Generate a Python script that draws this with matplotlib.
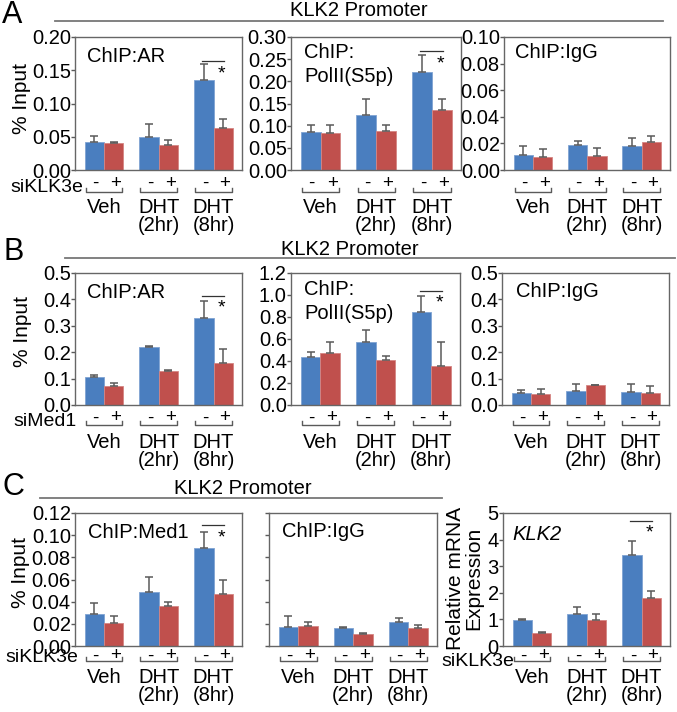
import matplotlib
matplotlib.use('Agg')
import matplotlib.pyplot as plt
from matplotlib.lines import Line2D
from matplotlib.transforms import offset_copy
import numpy as np

plt.rcParams['font.family'] = ['Liberation Sans', 'DejaVu Sans']

W, H = 677, 712

groups = ["Veh", "DHT\n(2hr)", "DHT\n(8hr)"]
signs = ["-", "+"]

# ---- Panel A (siKLK3e), KLK2 promoter ----
a_ar_ctrl = [0.042, 0.050, 0.135]
a_ar_ctrl_err = [0.009, 0.019, 0.024]
a_ar_si = [0.041, 0.037, 0.063]
a_ar_si_err = [0.001, 0.008, 0.014]

a_pol_ctrl = [0.085, 0.125, 0.222]
a_pol_ctrl_err = [0.017, 0.036, 0.038]
a_pol_si = [0.083, 0.089, 0.136]
a_pol_si_err = [0.019, 0.013, 0.025]

a_igg_ctrl = [0.0113, 0.0186, 0.0180]
a_igg_ctrl_err = [0.0070, 0.0030, 0.0060]
a_igg_si = [0.0100, 0.0108, 0.0209]
a_igg_si_err = [0.0056, 0.0060, 0.0047]

# ---- Panel B (siMed1) ----
b_ar_ctrl = [0.105, 0.218, 0.328]
b_ar_ctrl_err = [0.010, 0.005, 0.067]
b_ar_si = [0.073, 0.129, 0.158]
b_ar_si_err = [0.009, 0.003, 0.055]

b_pol_ctrl = [0.434, 0.574, 0.842]
b_pol_ctrl_err = [0.052, 0.110, 0.152]
b_pol_si = [0.477, 0.407, 0.352]
b_pol_si_err = [0.097, 0.043, 0.222]

b_igg_ctrl = [0.044, 0.054, 0.051]
b_igg_ctrl_err = [0.012, 0.024, 0.027]
b_igg_si = [0.041, 0.076, 0.046]
b_igg_si_err = [0.018, 0.001, 0.026]

# ---- Panel C (siKLK3e) ----
c_med_ctrl = [0.0293, 0.049, 0.088]
c_med_ctrl_err = [0.0097, 0.013, 0.015]
c_med_si = [0.0212, 0.036, 0.0466]
c_med_si_err = [0.0057, 0.004, 0.0129]

c_igg_ctrl = [0.0172, 0.0160, 0.0215]
c_igg_ctrl_err = [0.0097, 0.0015, 0.0037]
c_igg_si = [0.0181, 0.0112, 0.0160]
c_igg_si_err = [0.0037, 0.0003, 0.0025]

c_mrna_ctrl = [0.98, 1.21, 3.43]
c_mrna_ctrl_err = [0.02, 0.24, 0.53]
c_mrna_si = [0.47, 0.96, 1.79]
c_mrna_si_err = [0.06, 0.24, 0.29]

BLUE = '#4A7EBF'
RED = '#C0504D'
GREY = '#5a5a5a'
FS = 14.5

fig = plt.figure(figsize=(W / 100, H / 100), dpi=100)


def fx(px):
    return px / W


def fy(py):
    return 1 - py / H


def make_ax(l, r, t, b):
    return fig.add_axes([fx(l), fy(b), (r - l) / W, (b - t) / H])


def draw(ax, box, ctrl, ctrl_err, si, si_err, yticks, fmt, title, title_off,
         offs, sig=None, italic=False, show_labels=True):
    axh = box[3] - box[2]
    x = np.arange(len(groups))
    w = 0.355
    ekw = dict(ecolor=GREY, lw=1.1, capsize=3, capthick=1.1)
    ax.bar(x - w / 2, ctrl, w, color=BLUE, edgecolor='#7FA3D3', linewidth=0.6,
           yerr=[np.zeros(3), ctrl_err], error_kw=ekw, zorder=2)
    ax.bar(x + w / 2, si, w, color=RED, edgecolor='#D58583', linewidth=0.6,
           yerr=[np.zeros(3), si_err], error_kw=ekw, zorder=2)
    ax.set_xlim(-0.53, 2.52)
    ax.set_ylim(yticks[0], yticks[-1])
    ax.set_yticks(yticks)
    if show_labels:
        ax.set_yticklabels([fmt.format(v) for v in yticks])
    else:
        ax.set_yticklabels([])
    ax.set_xticks([])
    ax.tick_params(axis='y', direction='out', length=3, width=1, pad=0,
                   labelsize=FS, color=GREY)
    for s in ax.spines.values():
        s.set_color('#666666')
        s.set_linewidth(1)
    # title
    tt = offset_copy(ax.transAxes, fig=fig, x=title_off[0], y=-title_off[1], units='dots')
    ax.text(0, 1, title, transform=tt, ha='left', va='top', fontsize=FS,
            linespacing=1.35, style='italic' if italic else 'normal')
    # below axis annotations
    pm, br, gt = offs
    xt = ax.get_xaxis_transform()
    tr_pm = offset_copy(xt, fig=fig, y=-pm, units='dots')
    tr_br = offset_copy(xt, fig=fig, y=-br, units='dots')
    tr_gt = offset_copy(xt, fig=fig, y=-gt, units='dots')
    up = 4.0 / axh
    for i, xi in enumerate(x):
        ax.text(xi - w / 2 + 0.02, 0, signs[0], transform=tr_pm, ha='center', va='center',
                fontsize=13.5, clip_on=False)
        ax.text(xi + w / 2 + 0.03, 0, signs[1], transform=tr_pm, ha='center', va='center',
                fontsize=13.5, clip_on=False)
        ax.plot([xi - w + 0.02, xi - w + 0.02, xi + w - 0.02, xi + w - 0.02],
                [up, 0, 0, up], transform=tr_br, color=GREY, lw=1, clip_on=False)
        ax.text(xi, 0, groups[i], transform=tr_gt, ha='center', va='top',
                fontsize=FS, linespacing=0.95, clip_on=False)
    if sig is not None:
        xs = x[2]
        ax.plot([xs - 0.21, xs + 0.2], [sig, sig], color='#333333', lw=0.9, zorder=3)
        ax.annotate('*', xy=(xs + 0.15, sig), xytext=(0, -3), textcoords='offset points',
                    ha='center', va='top', fontsize=14)


def fig_line(x0, x1, y):
    fig.add_artist(Line2D([fx(x0), fx(x1)], [fy(y), fy(y)], color='#777777', lw=1.3))


# ---------------- Row A ----------------
offA = (13, 22, 28)
boxes_A = [(75, 242, 37, 170), (291, 461, 37, 170), (504, 670, 37, 170)]
ax = make_ax(*boxes_A[0])
draw(ax, boxes_A[0], a_ar_ctrl, a_ar_ctrl_err, a_ar_si, a_ar_si_err,
     np.arange(0, 0.2001, 0.05), '{:.2f}', 'ChIP:AR', (12, 10), offA, sig=0.164)
ax = make_ax(*boxes_A[1])
draw(ax, boxes_A[1], a_pol_ctrl, a_pol_ctrl_err, a_pol_si, a_pol_si_err,
     np.arange(0, 0.3001, 0.05), '{:.2f}', 'ChIP:\nPolII(S5p)', (13, 6), offA, sig=0.268)
ax = make_ax(*boxes_A[2])
draw(ax, boxes_A[2], a_igg_ctrl, a_igg_ctrl_err, a_igg_si, a_igg_si_err,
     np.arange(0, 0.1001, 0.02), '{:.2f}', 'ChIP:IgG', (11, 6), offA)

fig_line(55, 663, 20.5)
fig.text(fx(359), fy(11), 'KLK2 Promoter', ha='center', va='center', fontsize=FS)
fig.text(fx(2), fy(15), 'A', ha='left', va='center', fontsize=22)
fig.text(fx(22), fy(98), '% Input', rotation=90, ha='center', va='center', fontsize=15)
fig.text(fx(10), fy(187), 'siKLK3e', ha='left', va='center', fontsize=14)

# ---------------- Row B ----------------
offB = (13, 20, 28)
boxes_B = [(75, 242, 273, 405), (291, 460, 273, 405), (502, 669, 273, 405)]
ax = make_ax(*boxes_B[0])
draw(ax, boxes_B[0], b_ar_ctrl, b_ar_ctrl_err, b_ar_si, b_ar_si_err,
     np.arange(0, 0.5001, 0.1), '{:.1f}', 'ChIP:AR', (12, 10), offB, sig=0.414)
ax = make_ax(*boxes_B[1])
draw(ax, boxes_B[1], b_pol_ctrl, b_pol_ctrl_err, b_pol_si, b_pol_si_err,
     np.arange(0, 1.2001, 0.2), '{:.1f}', 'ChIP:\nPolII(S5p)', (13, 7), offB, sig=1.04)
ax = make_ax(*boxes_B[2])
draw(ax, boxes_B[2], b_igg_ctrl, b_igg_ctrl_err, b_igg_si, b_igg_si_err,
     np.arange(0, 0.5001, 0.1), '{:.1f}', 'ChIP:IgG', (14, 9), offB)

fig_line(65, 675, 258)
fig.text(fx(350), fy(249.5), 'KLK2 Promoter', ha='center', va='center', fontsize=FS)
fig.text(fx(3), fy(252), 'B', ha='left', va='center', fontsize=22)
fig.text(fx(23), fy(332), '% Input', rotation=90, ha='center', va='center', fontsize=15)
fig.text(fx(13), fy(421), 'siMed1', ha='left', va='center', fontsize=14)

# ---------------- Row C ----------------
offC = (10, 15, 22)
boxes_C = [(75, 242, 513, 646), (269, 437, 513, 646), (503, 670, 513, 646)]
ax = make_ax(*boxes_C[0])
draw(ax, boxes_C[0], c_med_ctrl, c_med_ctrl_err, c_med_si, c_med_si_err,
     np.arange(0, 0.12001, 0.02), '{:.2f}', 'ChIP:Med1', (13, 10), offC, sig=0.109)
ax = make_ax(*boxes_C[1])
draw(ax, boxes_C[1], c_igg_ctrl, c_igg_ctrl_err, c_igg_si, c_igg_si_err,
     np.arange(0, 0.12001, 0.02), '{:.2f}', 'ChIP:IgG', (13, 9), offC, show_labels=False)
ax = make_ax(*boxes_C[2])
draw(ax, boxes_C[2], c_mrna_ctrl, c_mrna_ctrl_err, c_mrna_si, c_mrna_si_err,
     np.arange(0, 5.001, 1), '{:.0f}', 'KLK2', (9, 12), offC, sig=4.71, italic=True)

fig_line(40, 442, 498)
fig.text(fx(243), fy(489), 'KLK2 Promoter', ha='center', va='center', fontsize=FS)
fig.text(fx(2), fy(487), 'C', ha='left', va='center', fontsize=22)
fig.text(fx(21), fy(573), '% Input', rotation=90, ha='center', va='center', fontsize=15)
fig.text(fx(465), fy(578), 'Relative mRNA\nExpression', rotation=90, ha='center',
         va='center', fontsize=15, linespacing=0.95)
fig.text(fx(5), fy(657), 'siKLK3e', ha='left', va='center', fontsize=14)
fig.text(fx(441), fy(662), 'siKLK3e', ha='left', va='center', fontsize=14)

fig.savefig('out.png', dpi=100)
